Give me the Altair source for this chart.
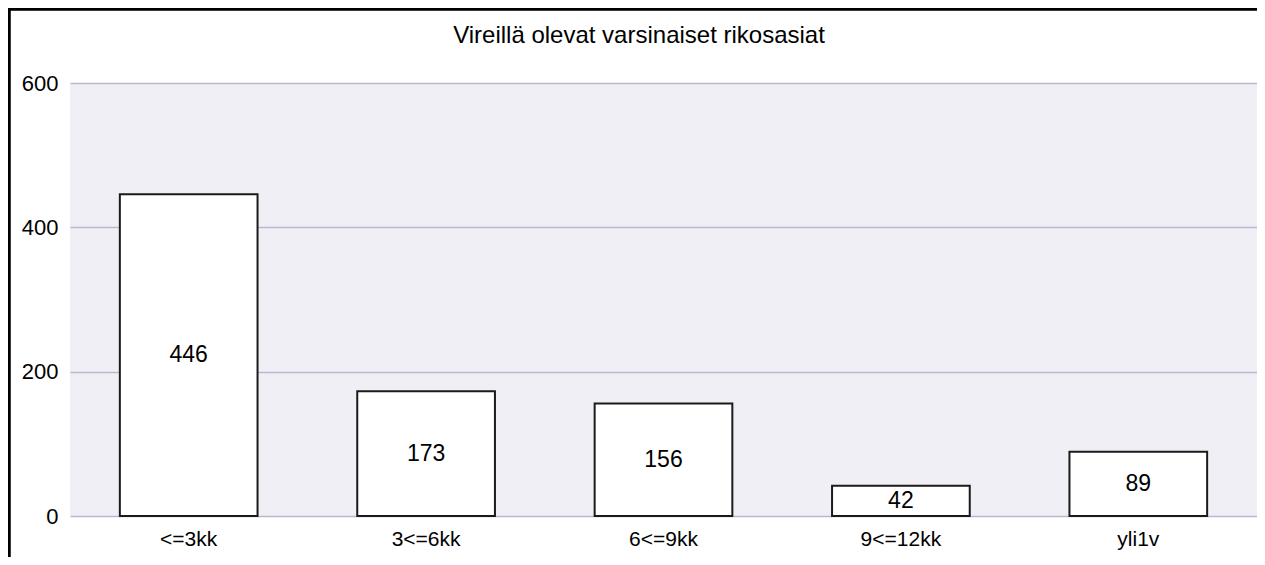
import altair as alt
import pandas as pd

categories = ["<=3kk", "3<=6kk", "6<=9kk", "9<=12kk", "yli1v"]
values = [446, 173, 156, 42, 89]
y_ticks = [0, 200, 400, 600]
title_text = "Vireillä olevat varsinaiset rikosasiat"

df = pd.DataFrame({"cat": categories, "val": values})

FONT = "Liberation Sans"
W, H = 1187, 433

x_enc = alt.X(
    "cat:N",
    sort=categories,
    title=None,
    scale=alt.Scale(paddingInner=0.42, paddingOuter=0.21),
    axis=alt.Axis(labelAngle=0, ticks=False, domain=False, labelPadding=12,
                  labelFontSize=21, labelFont=FONT, labelColor="#000000", grid=False),
)

bars = alt.Chart(df).mark_bar(fill="#ffffff", stroke="#1a1a1a", strokeWidth=2).encode(
    x=x_enc,
    y=alt.Y("val:Q", title=None,
            scale=alt.Scale(domain=[0, 600], nice=False),
            axis=alt.Axis(values=y_ticks, ticks=False, domain=False, labelPadding=12,
                          labelFontSize=22, labelFont=FONT, labelColor="#000000",
                          gridColor="#B9B7D2", gridWidth=1.5)),
)

labels = alt.Chart(df).transform_calculate(mid="datum.val / 2").mark_text(
    font=FONT, fontSize=23, color="#000000", baseline="middle", align="center"
).encode(
    x=alt.X("cat:N", sort=categories),
    y=alt.Y("mid:Q"),
    text=alt.Text("val:Q"),
)

title_df = pd.DataFrame({"t": [title_text]})
title_mark = alt.Chart(title_df).mark_text(
    font=FONT, fontSize=24, color="#000000", baseline="alphabetic", align="center"
).encode(x=alt.value(569), y=alt.value(-40), text="t:N")

border_left = alt.Chart(df).mark_rule(color="#000000", strokeWidth=2.5).encode(
    x=alt.value(-61), y=alt.value(-74), y2=alt.value(H + 60)
)
border_top = alt.Chart(df).mark_rule(color="#000000", strokeWidth=2.5).encode(
    x=alt.value(-62), x2=alt.value(W + 20), y=alt.value(-74)
)

chart = alt.layer(bars, labels, title_mark, border_left, border_top).properties(
    width=W,
    height=H,
    autosize=alt.AutoSizeParams(type="none"),
    padding={"left": 62, "top": 75, "right": 0, "bottom": 41},
).configure(
    background="#ffffff",
    view=alt.ViewConfig(fill="#F0EFF5", stroke=None),
)

chart.save("out.html", embed_options={"renderer": "svg", "actions": False})
